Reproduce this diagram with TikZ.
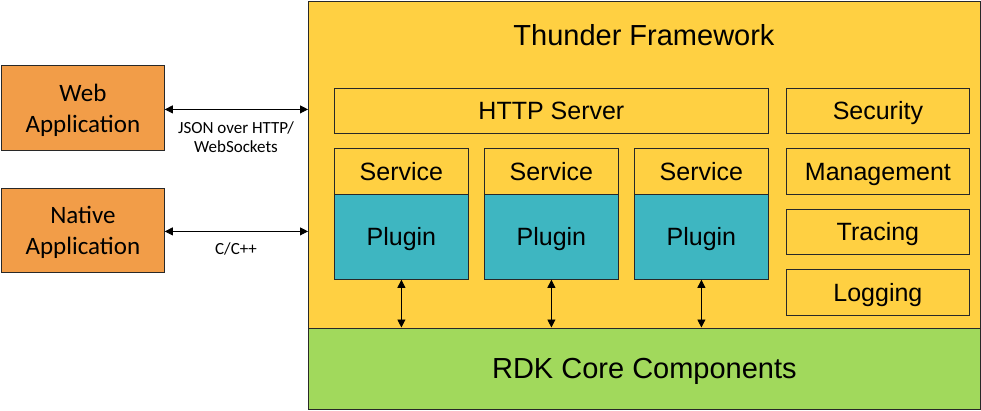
\documentclass[tikz,border=0pt]{standalone}
\usepackage{fontspec}
\setmainfont{Liberation Sans}
\newfontfamily\calfont{Carlito}
\usetikzlibrary{arrows.meta}
\definecolor{tyellow}{RGB}{255,208,66}
\definecolor{torange}{RGB}{242,157,72}
\definecolor{tteal}{RGB}{62,182,193}
\definecolor{tgreen}{RGB}{161,217,92}
\definecolor{tline}{RGB}{40,40,40}
\tikzset{
  box/.style={draw=tline, line width=0.8pt, inner sep=0pt, anchor=north west,
    text height=18pt, text depth=0.5pt, font=\fontsize{25}{29}\selectfont},
  ybox/.style={box, fill=tyellow},
  app/.style={draw=tline, line width=0.8pt, inner sep=0pt, anchor=north west, fill=torange,
    align=center, text depth=0pt, font=\calfont\fontsize{25}{31}\selectfont},
  arr/.style={line width=0.8pt, {Triangle[length=8pt,width=8pt]}-{Triangle[length=8pt,width=8pt]}},
  lbl/.style={font=\calfont\fontsize{17}{19.5}\selectfont, align=center, anchor=base, inner sep=0pt}
}
\begin{document}
\begin{tikzpicture}[x=1pt,y=-1pt]
\useasboundingbox (0,0) rectangle (981,410);
% framework
\node[ybox, minimum width=672pt, minimum height=407pt] (tf) at (308,1) {};
\node[box, fill=tgreen, minimum width=672pt, minimum height=81pt, text height=20.8pt, text depth=0pt, font=\fontsize{29}{33}\selectfont] (core) at (308,327.5) {RDK Core Components};
\node[font=\fontsize{29}{33}\selectfont, anchor=base, inner sep=0pt] (title) at (644,45) {Thunder Framework};
% http server
\node[ybox, minimum width=434pt, minimum height=45pt] (http) at (334,88) {HTTP Server};
% services and plugins
\node[ybox, minimum width=134pt, minimum height=46pt] (s1) at (334,148) {Service};
\node[box, fill=tteal, minimum width=134pt, minimum height=85pt] (p1) at (334,194) {Plugin};
\node[ybox, minimum width=134pt, minimum height=46pt] (s2) at (484,148) {Service};
\node[box, fill=tteal, minimum width=134pt, minimum height=85pt] (p2) at (484,194) {Plugin};
\node[ybox, minimum width=134pt, minimum height=46pt] (s3) at (634,148) {Service};
\node[box, fill=tteal, minimum width=134pt, minimum height=85pt] (p3) at (634,194) {Plugin};
% right column
\node[ybox, minimum width=183pt, minimum height=45pt] (sec) at (786,88) {Security};
\node[ybox, minimum width=183pt, minimum height=46pt] (mgmt) at (786,148) {Management};
\node[ybox, minimum width=183pt, minimum height=45pt] (trc) at (786,209) {Tracing};
\node[ybox, minimum width=183pt, minimum height=46pt] (log) at (786,269) {Logging};
% plugin arrows
\draw[arr] (p1.south) -- (p1.south |- core.north);
\draw[arr] (p2.south) -- (p2.south |- core.north);
\draw[arr] (p3.south) -- (p3.south |- core.north);
% apps
\node[app, minimum width=163pt, minimum height=85pt] (web) at (1,65) {Web\\Application};
\node[app, minimum width=163pt, minimum height=84pt] (nat) at (1,188) {Native\\Application};
\draw[arr] ([yshift=-1.5pt]web.east) -- ([yshift=-1.5pt]web.east -| tf.west);
\draw[arr] ([yshift=-1pt]nat.east) -- ([yshift=-1pt]nat.east -| tf.west);
\node[lbl] (jl) at (236,152.5) {JSON over HTTP/\\WebSockets};
\node[lbl] (cl) at (236,254) {C/C++};
\end{tikzpicture}
\end{document}
